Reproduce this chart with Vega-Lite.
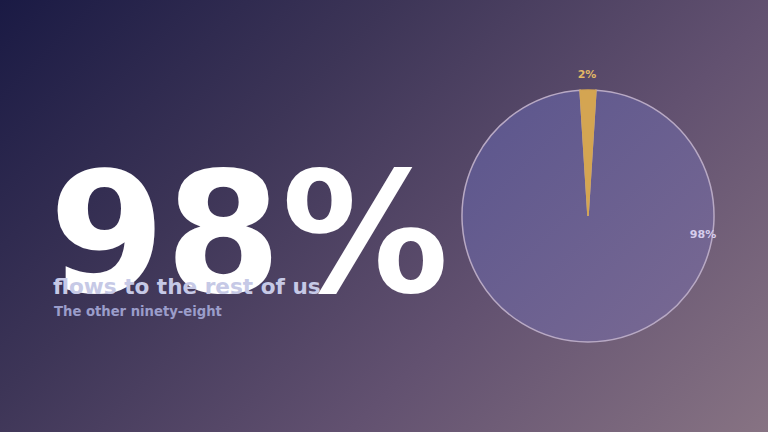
{
  "$schema": "https://vega.github.io/schema/vega-lite/v6.json",
  "width": 768,
  "height": 432,
  "autosize": {"type": "fit", "contains": "padding"},
  "padding": 0,
  "background": "#4a3d60",
  "config": {
    "view": {"stroke": null},
    "text": {"font": "DejaVu Sans", "fontWeight": "bold"}
  },
  "datasets": {
    "share": [
      {"group": "rest", "share": 98, "label": "98%"},
      {"group": "top", "share": 2, "label": "2%"}
    ],
    "copy": [
      {"headline": "98%", "caption": "flows to the rest of us", "sub": "The other ninety-eight"}
    ]
  },
  "layer": [
    {
      "data": {"values": [{"panel": "background"}]},
      "mark": {
        "type": "rect",
        "fill": {
          "gradient": "linear",
          "x1": 0, "y1": 0, "x2": 1.187, "y2": 0.668,
          "stops": [
            {"offset": 0, "color": "#1a1a44"},
            {"offset": 0.33, "color": "#3d3557"},
            {"offset": 0.65, "color": "#625170"},
            {"offset": 1, "color": "#877383"}
          ]
        }
      },
      "encoding": {}
    },
    {
      "data": {"name": "share"},
      "mark": {"type": "arc", "radius": 126, "x": 588, "y": 216, "strokeWidth": 1.5},
      "encoding": {
        "theta": {
          "field": "share",
          "type": "quantitative",
          "stack": true,
          "scale": {"range": [0.06283, 6.34602]}
        },
        "order": {"field": "share", "sort": "descending"},
        "fill": {
          "condition": {"test": "datum.group == 'top'", "value": "#d4a552"},
          "value": {
            "gradient": "linear",
            "x1": 0, "y1": 0, "x2": 1, "y2": 1,
            "stops": [
              {"offset": 0, "color": "#5a558d"},
              {"offset": 1, "color": "#7a6a93"}
            ]
          }
        },
        "stroke": {
          "condition": {"test": "datum.group == 'top'", "value": "#d4a552"},
          "value": "#b8a9c4"
        }
      }
    },
    {
      "data": {"name": "share"},
      "transform": [{"filter": "datum.group == 'top'"}],
      "mark": {"type": "text", "x": 587, "y": 75, "fontSize": 11, "color": "#e2b866", "align": "center", "baseline": "middle"},
      "encoding": {"text": {"field": "label"}}
    },
    {
      "data": {"name": "share"},
      "transform": [{"filter": "datum.group == 'rest'"}],
      "mark": {"type": "text", "x": 703, "y": 235, "fontSize": 11, "color": "#d6cdec", "align": "center", "baseline": "middle"},
      "encoding": {"text": {"field": "label"}}
    },
    {
      "data": {"name": "copy"},
      "mark": {"type": "text", "x": 49, "y": 292, "fontSize": 167, "color": "#ffffff", "align": "left", "baseline": "alphabetic"},
      "encoding": {"text": {"field": "headline"}}
    },
    {
      "data": {"name": "copy"},
      "mark": {"type": "text", "x": 53, "y": 294, "fontSize": 21.6, "color": "#c6c9e6", "align": "left", "baseline": "alphabetic"},
      "encoding": {"text": {"field": "caption"}}
    },
    {
      "data": {"name": "copy"},
      "mark": {"type": "text", "x": 54, "y": 316, "fontSize": 13.2, "color": "#9b9dca", "align": "left", "baseline": "alphabetic"},
      "encoding": {"text": {"field": "sub"}}
    }
  ]
}
